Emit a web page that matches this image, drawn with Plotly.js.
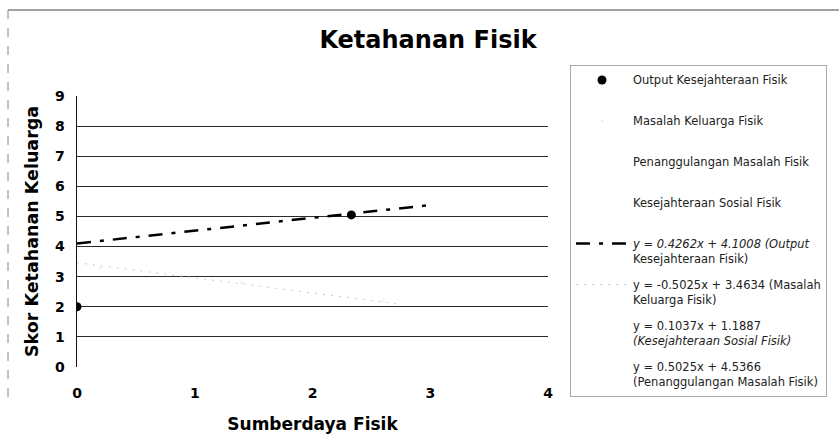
<!DOCTYPE html>
<html>
<head>
<meta charset="utf-8">
<script src="https://cdn.plot.ly/plotly-3.0.1.min.js"></script>
<style>html,body{margin:0;padding:0;background:#fff;}#chart{width:839px;height:447px;}</style>
</head>
<body>
<div id="chart"></div>
<script>
// ---- data ----
const xTicks = [0, 1, 2, 3, 4];
const yTicks = [0, 1, 2, 3, 4, 5, 6, 7, 8, 9];

const outputX = [0, 2.33];
const outputY = [2, 5.05];

const masalahX = [0.2, 1.4, 2.6];
const masalahY = [3.3, 2.8, 2.2];

const penanggulanganX = [0.5, 1.5, 2.5];
const penanggulanganY = [4.8, 5.3, 5.8];

const sosialX = [0.5, 1.5, 2.5];
const sosialY = [1.25, 1.35, 1.45];

// trendline equations shown in the legend: [slope, intercept]
const trendOutput = [0.4262, 4.1008];
const trendMasalah = [-0.5025, 3.4634];
const trendSosial = [0.1037, 1.1887];
const trendPenanggulangan = [0.5025, 4.5366];
const trendX = [0, 3];
const trendXMasalah = [0, 2.75];

const seriesNames = [
  'Output Kesejahteraan Fisik<br> ',
  'Masalah Keluarga Fisik<br> ',
  'Penanggulangan Masalah Fisik<br> ',
  'Kesejahteraan Sosial Fisik<br> '
];
const trendNames = [
  '<i>y = 0.4262x + 4.1008 (Output</i><br>Kesejahteraan Fisik)',
  'y = -0.5025x + 3.4634 (Masalah<br>Keluarga Fisik)',
  'y = 0.1037x + 1.1887<br><i>(Kesejahteraan Sosial Fisik)</i>',
  'y = 0.5025x + 4.5366<br>(Penanggulangan Masalah Fisik)'
];

function line(xs, coef) { return xs.map(x => coef[0] * x + coef[1]); }

const traces = [
  {x: outputX, y: outputY, name: seriesNames[0], mode: 'markers', legendgroup: 'a',
   marker: {color: '#000', size: 9, symbol: 'circle'}},
  {x: masalahX, y: masalahY, name: seriesNames[1], mode: 'markers', legendgroup: 'b',
   marker: {color: '#eeeeee', size: 3}},
  {x: penanggulanganX, y: penanggulanganY, name: seriesNames[2], mode: 'markers', legendgroup: 'c',
   marker: {color: 'rgba(255,255,255,0)', size: 3}},
  {x: sosialX, y: sosialY, name: seriesNames[3], mode: 'markers', legendgroup: 'd',
   marker: {color: 'rgba(255,255,255,0)', size: 3}},
  {x: trendX, y: line(trendX, trendOutput), name: trendNames[0], mode: 'lines', legendgroup: 'e',
   line: {color: '#000', width: 2.5, dash: '14px,9px,4px,9px'}},
  {x: trendXMasalah, y: line(trendXMasalah, trendMasalah), name: trendNames[1], mode: 'lines', legendgroup: 'f',
   line: {color: '#c8c8c8', width: 1, dash: '2px,6px'}},
  {x: trendX, y: line(trendX, trendSosial), name: trendNames[2], mode: 'lines', legendgroup: 'g',
   line: {color: 'rgba(255,255,255,0)', width: 1}},
  {x: trendX, y: line(trendX, trendPenanggulangan), name: trendNames[3], mode: 'lines', legendgroup: 'h',
   line: {color: 'rgba(255,255,255,0)', width: 1}}
];

const W = 839, H = 447, L = 77, R = 291, T = 96, B = 80;
const pw = W - L - R, ph = H - T - B;
const px = v => (v - L) / pw;
const py = v => (H - B - v) / ph;
const FONT = '"DejaVu Sans", Arial, sans-serif';

const layout = {
  width: W, height: H,
  margin: {l: L, r: R, t: T, b: B, autoexpand: false},
  paper_bgcolor: '#fff', plot_bgcolor: '#fff',
  font: {family: FONT, color: '#000'},
  title: {text: '<b>Ketahanan Fisik</b>', font: {size: 24, color: '#000', family: FONT},
          x: px(428), xref: 'paper', xanchor: 'center', y: 1 - 40 / H, yanchor: 'middle'},
  xaxis: {range: [0, 4], tickvals: xTicks, ticks: '', showgrid: false, zeroline: false, showline: false,
          tickfont: {size: 14, color: '#000', weight: 'bold'}, ticklabelstandoff: 16,
          title: {text: '<b>Sumberdaya Fisik</b>', font: {size: 17, color: '#000'}, standoff: 18}},
  yaxis: {range: [0, 9], tickvals: yTicks, ticks: '', showgrid: true, gridcolor: '#2a2a2a', gridwidth: 1,
          zeroline: false, showline: true, linecolor: '#111', linewidth: 1.5,
          tickfont: {size: 14, color: '#000', weight: 'bold'}, ticklabelstandoff: 8,
          title: {text: '<b>Skor Ketahanan Keluarga</b>', font: {size: 17.5, color: '#000'}, standoff: 12}},
  showlegend: true,
  legend: {x: px(570), y: py(65), xanchor: 'left', yanchor: 'top', maxheight: 420,
           bordercolor: '#aaa', borderwidth: 1, bgcolor: '#fff', valign: 'top',
           font: {size: 11.5, color: '#222', family: FONT}, tracegroupgap: 8, itemwidth: 52},
  shapes: [
    // hide the grid line at the top tick (9), as in the reference
    {type: 'line', xref: 'paper', yref: 'y', x0: 0.004, x1: 1, y0: 9, y1: 9, layer: 'between',
     line: {color: '#fff', width: 3}},
    {type: 'line', xref: 'paper', yref: 'paper', x0: px(8), x1: px(839), y0: py(10), y1: py(10),
     line: {color: '#444', width: 1.2}},
    {type: 'line', xref: 'paper', yref: 'paper', x0: px(8), x1: px(8), y0: py(10), y1: py(400),
     line: {color: '#888', width: 1, dash: 'dash'}}
  ]
};

Plotly.newPlot('chart', traces, layout, {displayModeBar: false, staticPlot: true});
</script>
</body>
</html>
